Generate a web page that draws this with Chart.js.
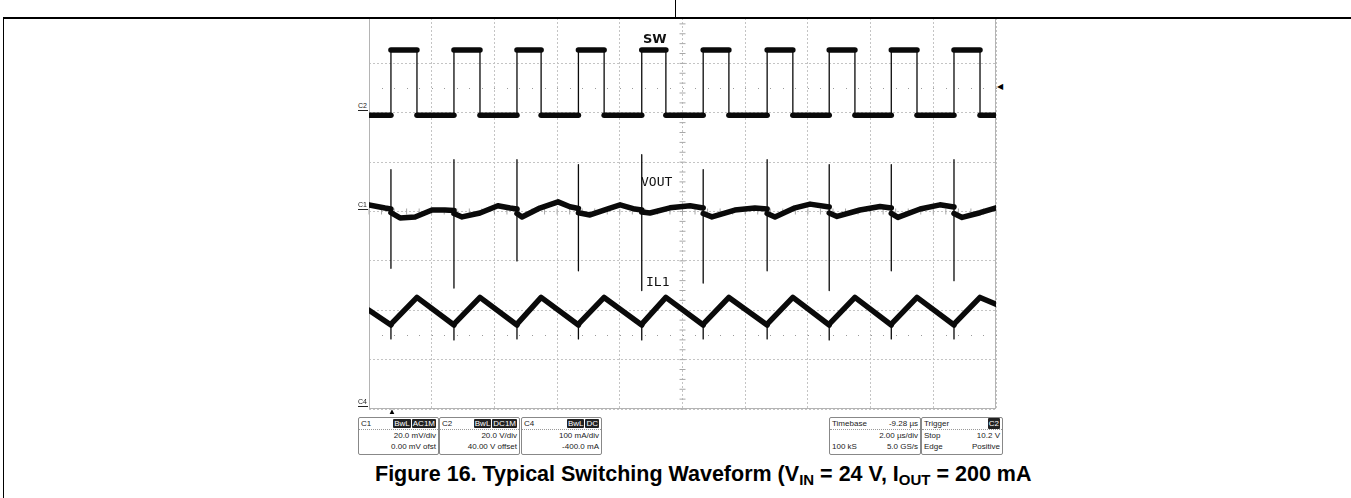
<!DOCTYPE html>
<html>
<head>
<meta charset="utf-8">
<script src="https://cdn.jsdelivr.net/npm/chart.js@4.4.0/dist/chart.umd.min.js"></script>
<style>
  body { margin: 0; background: #fff; }
  #page { position: relative; width: 1351px; height: 498px; overflow: hidden; font-family: "Liberation Sans", Arial, sans-serif; }
  .rule { position: absolute; background: #000; }
  #clip { position: absolute; left: 368px; top: 19px; width: 629px; height: 391px; overflow: hidden; }
  #scope { position: absolute; left: 0; top: -6px; }
  .tr { position: absolute; font-family: "DejaVu Sans Mono", monospace; font-size: 13px; color: #111; }
  .cm { position: absolute; font-size: 7px; color: #222; line-height: 7px; }
  .cm:after { content: ""; position: absolute; left: 0; top: 8px; width: 10px; height: 1px; background: #222; }
  .box { position: absolute; top: 417px; height: 36px; border: 1px solid #888; border-radius: 2px; font-size: 8px; line-height: 11px; color: #222; }
  .box .row { display: flex; justify-content: space-between; padding: 0 2px; }
  .box .hd { border-bottom: 1px dotted #999; height: 11px; }
  .tag { background: #222; color: #fff; padding: 0 1px; margin-left: 1px; border-radius: 1px; }
  #cap { position: absolute; left: 375px; top: 461px; white-space: nowrap; font-weight: bold; font-size: 21.5px; line-height: 26px; }
  #cap sub { font-size: 15px; vertical-align: -4px; line-height: 0; }
</style>
</head>
<body>
<div id="page">
  <div id="clip"><canvas id="scope" width="629" height="397"></canvas></div>

  <div class="rule" style="left:3px; top:17px; width:1348px; height:2px;"></div>
  <div class="rule" style="left:675px; top:0; width:1px; height:18px;"></div>
  <div class="rule" style="left:3px; top:17px; width:1px; height:481px;"></div>

  <div class="tr" style="left:643px; top:31px; font-weight:bold; font-family:'DejaVu Sans', sans-serif;">SW</div>
  <div class="tr" style="left:641px; top:174px;">VOUT</div>
  <div class="tr" style="left:646px; top:274px;">IL1</div>

  <div class="cm" style="left:358px; top:102px;">C2</div>
  <div class="cm" style="left:358px; top:201px;">C1</div>
  <div class="cm" style="left:358px; top:398px;">C4</div>
  <div style="position:absolute; left:388px; top:407px; font-size:8px;">&#9650;</div>
  <div style="position:absolute; left:997px; top:82px; font-size:8px;">&#9664;</div>

  <div class="box" style="left:358px; width:79px;">
    <div class="row hd"><span>C1</span><span><span class="tag">BwL</span><span class="tag">AC1M</span></span></div>
    <div class="row" style="justify-content:flex-end;">20.0 mV/div</div>
    <div class="row" style="justify-content:flex-end;">0.00 mV ofst</div>
  </div>
  <div class="box" style="left:439px; width:79px;">
    <div class="row hd"><span>C2</span><span><span class="tag">BwL</span><span class="tag">DC1M</span></span></div>
    <div class="row" style="justify-content:flex-end;">20.0 V/div</div>
    <div class="row" style="justify-content:flex-end;">40.00 V offset</div>
  </div>
  <div class="box" style="left:521px; width:79px;">
    <div class="row hd"><span>C4</span><span><span class="tag">BwL</span><span class="tag">DC</span></span></div>
    <div class="row" style="justify-content:flex-end;">100 mA/div</div>
    <div class="row" style="justify-content:flex-end;">-400.0 mA</div>
  </div>
  <div class="box" style="left:829px; width:90px;">
    <div class="row hd"><span>Timebase</span><span>-9.28 µs</span></div>
    <div class="row" style="justify-content:flex-end;">2.00 µs/div</div>
    <div class="row"><span>100 kS</span><span>5.0 GS/s</span></div>
  </div>
  <div class="box" style="left:921px; width:80px;">
    <div class="row hd"><span>Trigger</span><span class="tag">C2</span></div>
    <div class="row"><span>Stop</span><span>10.2 V</span></div>
    <div class="row"><span>Edge</span><span>Positive</span></div>
  </div>

  <div id="cap">Figure 16. Typical Switching Waveform (V<sub>IN</sub> = 24 V, I<sub>OUT</sub> = 200 mA</div>
</div>

<script>
// time base: 2 us/div, 10 div
const timeTicks = [0, 2, 4, 6, 8, 10, 12, 14, 16, 18, 20];
const divTicks = [0, 1, 2, 3, 4, 5, 6, 7, 8];

// SW node, volts (C2, 20 V/div)
const swT = [0, 0.70, 0.70, 1.53, 1.53, 2.71, 2.71, 3.54, 3.54, 4.72, 4.72, 5.49, 5.49,
  6.68, 6.68, 7.50, 7.50, 8.70, 8.70, 9.47, 9.47, 10.66, 10.66, 11.48, 11.48, 12.70, 12.70,
  13.52, 13.52, 14.68, 14.68, 15.50, 15.50, 16.66, 16.66, 17.48, 17.48, 18.66, 18.66, 19.49, 19.49, 20];
const swV = [-1.0, -1.0, 25.4, 25.4, -1.0, -1.0, 25.4, 25.4, -1.0, -1.0, 25.4, 25.4, -1.0,
  -1.0, 25.4, 25.4, -1.0, -1.0, 25.4, 25.4, -1.0, -1.0, 25.4, 25.4, -1.0, -1.0, 25.4,
  25.4, -1.0, -1.0, 25.4, 25.4, -1.0, -1.0, 25.4, 25.4, -1.0, -1.0, 25.4, 25.4, -1.0, -1.0];

// VOUT ripple, mV (C1, 20 mV/div, AC) - spikes at each SW rising edge
const voutT = [0, 0.51,
  0.70, 0.70, 0.70, 0.70, 0.99, 1.47, 2.01, 2.42,
  2.71, 2.71, 2.71, 2.71, 2.97, 3.54, 4.11, 4.50,
  4.72, 4.72, 4.72, 4.72, 4.88, 5.45, 6.03, 6.41,
  6.68, 6.68, 6.68, 6.68, 7.05, 7.69, 8.01, 8.48,
  8.70, 8.70, 8.70, 8.70, 8.96, 9.60, 10.24,
  10.66, 10.66, 10.66, 10.66, 10.94, 11.67, 12.31,
  12.70, 12.70, 12.70, 12.70, 12.95, 13.59, 14.07,
  14.68, 14.68, 14.68, 14.68, 14.93, 15.66, 16.30,
  16.66, 16.66, 16.66, 16.66, 16.87, 17.58, 18.21,
  18.66, 18.66, 18.66, 18.66, 18.92, 19.49, 20];
const voutV = [2.7, 1.4,
  1.0, 17, -23, -0.5, -2.6, -2.2, 0.6, 0.6,
  0.4, 21, -31, -0.8, -2.2, -0.6, 2.3, 1.4,
  1.0, 21, -20, -0.8, -2.2, 1.4, 3.9, 1.9,
  1.2, 19, -24, -0.5, -1.4, 1.4, 2.7, 1.0,
  0.6, 23, -32, -0.2, -0.6, 1.5, 2.3,
  1.4, 17, -29, -0.8, -2.2, 0.6, 1.4,
  1.0, 21, -24, -0.8, -2.2, 1.5, 3.0,
  1.8, 19, -32, -0.6, -2.0, 0.6, 2.0,
  1.4, 19, -24, -0.8, -2.4, 1.0, 2.7,
  1.8, 21, -28, -0.8, -2.4, -0.5, 1.5];

// inductor current, mA (C4, 100 mA/div)
const ilT = [0, 0.70, 0.70, 0.70, 1.53, 2.71, 2.71, 2.71, 3.54, 4.72, 4.72, 4.72, 5.49,
  6.68, 6.68, 6.68, 7.50, 8.70, 8.70, 8.70, 9.47, 10.66, 10.66, 10.66, 11.48,
  12.70, 12.70, 12.70, 13.52, 14.68, 14.68, 14.68, 15.50, 16.66, 16.66, 16.66, 17.48,
  18.66, 18.66, 18.66, 19.49, 20];
const ilA = [200, 170, 142, 172, 226, 170, 140, 172, 226, 170, 142, 172, 226,
  170, 142, 172, 226, 170, 140, 172, 226, 170, 142, 172, 226,
  170, 142, 172, 226, 170, 140, 172, 226, 170, 142, 172, 226,
  170, 142, 172, 226, 212];

const pts = (xs, ys) => xs.map((x, i) => ({ x: x, y: ys[i] }));

function trace(label, data, axis) {
  return {
    label: label,
    data: data,
    yAxisID: axis,
    showLine: true,
    pointRadius: 0,
    borderColor: '#0a0a0a',
    borderWidth: 5.5,
    borderJoinStyle: 'round',
    borderCapStyle: 'round',
    tension: 0,
    segment: {
      // edges and spikes are thin, the noisy flat parts are a thick band
      borderWidth: c => (c.p0.parsed.x === c.p1.parsed.x ? 1.3 : 5.5)
    }
  };
}

// frame, centre crosshair ticks and the two dotted level rows
const scopeDecor = {
  id: 'scopeDecor',
  beforeDatasetsDraw(chart) {
    const { ctx, chartArea: a, scales } = chart;
    const cx = scales.x.getPixelForValue(10);
    const cy = scales.yd.getPixelForValue(4);
    ctx.save();
    ctx.strokeStyle = '#a8a8a8';
    ctx.lineWidth = 1;
    for (let t = 0; t <= 20.001; t += 0.4) {
      const px = scales.x.getPixelForValue(t);
      ctx.beginPath(); ctx.moveTo(px, cy - 3); ctx.lineTo(px, cy + 3); ctx.stroke();
    }
    for (let d = 0; d <= 8.001; d += 0.2) {
      const py = scales.yd.getPixelForValue(d);
      ctx.beginPath(); ctx.moveTo(cx - 3, py); ctx.lineTo(cx + 3, py); ctx.stroke();
    }
    ctx.fillStyle = '#9a9a9a';
    [scales.ySW.getPixelForValue(10.2), scales.yd.getPixelForValue(1.5)].forEach(py => {
      for (let t = 0.4; t < 20; t += 0.4) {
        ctx.fillRect(Math.round(scales.x.getPixelForValue(t)), Math.round(py), 1, 1);
      }
    });
    ctx.strokeStyle = '#b4b4b4';
    ctx.strokeRect(a.left + 0.5, a.top + 0.5, a.width - 1, a.height - 1);
    ctx.restore();
  }
};

new Chart(document.getElementById('scope'), {
  type: 'scatter',
  data: {
    datasets: [
      trace('SW', pts(swT, swV), 'ySW'),
      trace('VOUT', pts(voutT, voutV), 'yV'),
      trace('IL1', pts(ilT, ilA), 'yI')
    ]
  },
  options: {
    responsive: false,
    animation: false,
    layout: { padding: 1 },
    plugins: { legend: { display: false }, tooltip: { enabled: false } },
    scales: {
      x: {
        type: 'linear', min: 0, max: 20,
        afterBuildTicks: s => { s.ticks = timeTicks.map(v => ({ value: v })); },
        ticks: { display: false },
        grid: { color: '#c4c4c4', drawTicks: false },
        border: { display: false, dash: [2, 2] }
      },
      yd: {
        type: 'linear', position: 'left', min: 0, max: 8,
        afterBuildTicks: s => { s.ticks = divTicks.map(v => ({ value: v })); },
        ticks: { display: false },
        grid: { color: '#c4c4c4', drawTicks: false },
        border: { display: false, dash: [2, 2] }
      },
      ySW: { display: false, min: -120, max: 40 },
      yV: { display: false, min: -80, max: 80 },
      yI: { display: false, min: 0, max: 800 }
    }
  },
  plugins: [scopeDecor]
});
</script>
</body>
</html>
